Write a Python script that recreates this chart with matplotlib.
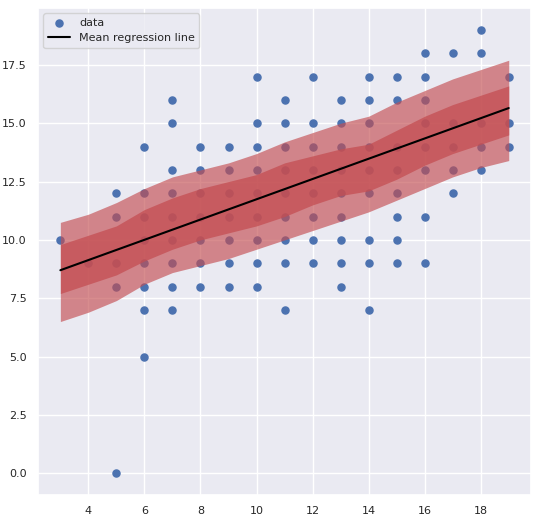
import numpy as np
import matplotlib
matplotlib.use("Agg")
import matplotlib.pyplot as plt
import seaborn as sns

sns.set_theme(style="darkgrid")

# scatter data, grouped by x
pts = {
    3: [10], 4: [9], 5: [12, 11, 9, 8, 0],
    6: [14, 12, 11, 10, 9, 8, 7, 5],
    7: [16, 15, 13, 12, 11, 10, 9, 8, 7],
    8: [14, 13, 12, 11, 10, 9, 8],
    9: [14, 13, 12, 11, 10, 9, 8],
    10: [17, 15, 14, 13, 12, 11, 10, 9, 8],
    11: [16, 15, 14, 13, 12, 11, 10, 9, 7],
    12: [17, 15, 14, 13, 12, 11, 10, 9],
    13: [16, 15, 14, 13, 12, 11, 10, 9, 8],
    14: [17, 16, 15, 14, 13, 12, 10, 9, 7],
    15: [17, 16, 14, 13, 12, 11, 10, 9],
    16: [18, 17, 16, 15, 14, 13, 11, 9],
    17: [18, 15, 14, 13, 12],
    18: [19, 18, 15, 14, 13],
    19: [17, 15, 14],
}
xs = [x for x, ys in pts.items() for _ in ys]
ys = [y for ys_ in pts.values() for y in ys_]

xgrid = np.arange(3, 20)
line_y = [8.7, 15.65]
inner_hi = [9.8, 10.2, 10.6, 11.3, 11.8, 12.2, 12.5, 12.8, 13.3, 13.6, 13.9, 14.1, 14.7, 15.3, 15.8, 16.2, 16.6]
inner_lo = [7.7, 8.1, 8.5, 9.1, 9.6, 10.0, 10.3, 10.6, 11.0, 11.5, 11.9, 12.1, 12.6, 13.2, 13.7, 14.1, 14.5]
outer_hi = [10.75, 11.1, 11.6, 12.2, 12.7, 13.0, 13.3, 13.7, 14.2, 14.6, 15.0, 15.3, 15.9, 16.4, 16.9, 17.3, 17.7]
outer_lo = [6.5, 6.9, 7.4, 8.1, 8.6, 8.9, 9.2, 9.6, 10.0, 10.4, 10.8, 11.2, 11.7, 12.2, 12.7, 13.1, 13.4]

fig = plt.figure(figsize=(5.42, 5.16), dpi=100)
ax = fig.add_axes([0.07, 0.04, 0.91, 0.945])
ax.scatter(xs, ys, s=26, color="#4C72B0", label="data", zorder=2)
ax.fill_between(xgrid, outer_lo, outer_hi, color="#C44E52", alpha=0.65, lw=0, zorder=3)
ax.fill_between(xgrid, inner_lo, inner_hi, color="#C44E52", alpha=0.75, lw=0, zorder=3)
ax.plot([3, 19], line_y, color="black", lw=1.5, label="Mean regression line", zorder=4)
ax.set_xlim(2.2, 19.8)
ax.set_ylim(-0.95, 19.95)
ax.set_xticks([4, 6, 8, 10, 12, 14, 16, 18])
ax.set_yticks(np.arange(0, 18, 2.5))
ax.tick_params(labelsize=8, pad=2)
ax.legend(loc="upper left", fontsize=8)
fig.savefig("out.png")
